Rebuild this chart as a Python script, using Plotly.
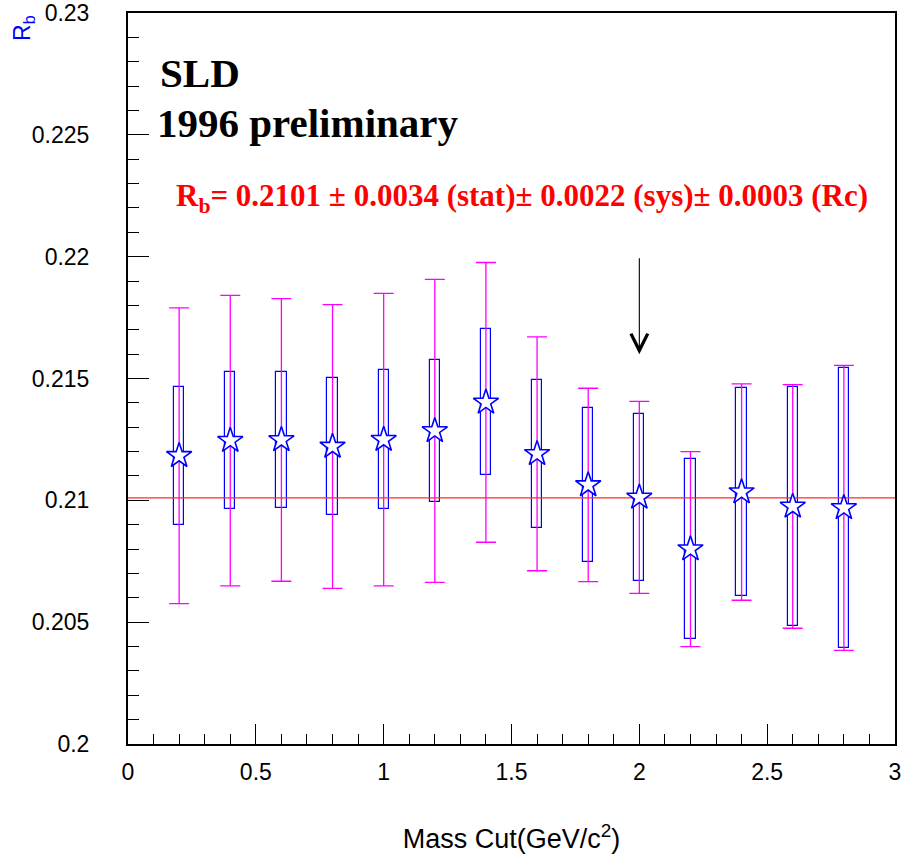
import plotly.graph_objects as go

# ---- data ----
mass_cut = [0.2, 0.4, 0.6, 0.8, 1.0, 1.2, 1.4, 1.6, 1.8, 2.0, 2.2, 2.4, 2.6, 2.8]
rb = [0.21183, 0.21245, 0.21248, 0.21221, 0.21249, 0.21285, 0.21402,
      0.21191, 0.21063, 0.21012, 0.20800, 0.21034, 0.20975, 0.20969]
stat_err = [0.00283, 0.00282, 0.00280, 0.00282, 0.00286, 0.00290, 0.00300,
            0.00303, 0.00315, 0.00341, 0.00369, 0.00427, 0.00489, 0.00573]
total_err = [0.00607, 0.00596, 0.00580, 0.00582, 0.00600, 0.00622, 0.00574,
             0.00480, 0.00397, 0.00394, 0.00400, 0.00444, 0.00500, 0.00585]
rb_fit = 0.2101
x_range = [0, 3]
y_range = [0.2, 0.23]
arrow_x = 2.0
arrow_from = 0.2200
arrow_to = 0.2160
x_ticks = [0, 0.5, 1, 1.5, 2, 2.5, 3]
x_tick_labels = ["0", "0.5", "1", "1.5", "2", "2.5", "3"]
y_ticks = [0.2, 0.205, 0.21, 0.215, 0.22, 0.225, 0.23]
y_tick_labels = ["0.2", "0.205", "0.21", "0.215", "0.22", "0.225", "0.23"]

box_low = [v - e for v, e in zip(rb, stat_err)]
box_len = [2 * e for e in stat_err]

fig = go.Figure()

# statistical boxes
fig.add_trace(go.Bar(
    x=mass_cut, y=box_len, base=box_low, width=0.04,
    marker=dict(color="rgba(255,255,255,0)", line=dict(color="#0000ff", width=1.2)),
    showlegend=False, hoverinfo="skip",
))

# total error bars
fig.add_trace(go.Scatter(
    x=mass_cut, y=rb, mode="markers",
    marker=dict(size=0.1, color="rgba(0,0,0,0)"),
    error_y=dict(type="data", array=total_err, visible=True,
                 color="#ff00ff", thickness=1.3, width=10),
    showlegend=False, hoverinfo="skip",
))

# fitted value line
fig.add_trace(go.Scatter(
    x=x_range, y=[rb_fit, rb_fit], mode="lines",
    line=dict(color="#ff2a2a", width=1.2),
    showlegend=False, hoverinfo="skip",
))

# stars
fig.add_trace(go.Scatter(
    x=mass_cut, y=rb, mode="markers",
    marker=dict(symbol="star", size=19, color="white",
                line=dict(color="#0000ff", width=1.6)),
    showlegend=False,
))

tick_font = dict(family="Liberation Sans, Arial, sans-serif", size=23, color="black")

fig.update_xaxes(
    range=x_range, tickvals=x_ticks, ticktext=x_tick_labels,
    ticks="inside", ticklen=20, tickwidth=1.2, tickcolor="black",
    minor=dict(ticks="inside", ticklen=10, dtick=0.1, tickwidth=1.2, tickcolor="black"),
    showline=True, linecolor="black", linewidth=2, mirror=True,
    showgrid=False, zeroline=False, tickfont=tick_font, ticklabelstandoff=6,
    automargin=False,
    title=dict(text="Mass Cut(GeV/c<sup>2</sup>)",
               font=dict(family="Liberation Sans, Arial, sans-serif", size=27, color="black"),
               standoff=46),
)
fig.update_yaxes(
    range=y_range, tickvals=y_ticks, ticktext=y_tick_labels,
    ticks="inside", ticklen=21, tickwidth=1.2, tickcolor="black",
    minor=dict(ticks="inside", ticklen=11, dtick=0.001, tickwidth=1.2, tickcolor="black"),
    showline=True, linecolor="black", linewidth=2, mirror=True,
    showgrid=False, zeroline=False, tickfont=tick_font, ticklabelstandoff=32,
    automargin=False,
)

# plot-area pixel geometry
PL, PR, PT, PB = 128, 895, 13, 744.3
W_PLOT, H_PLOT = PR - PL, PB - PT


def px(xp):
    return (xp - PL) / W_PLOT


def py(yp):
    return (PB - yp) / H_PLOT


serif = "Liberation Serif, Times New Roman, serif"
fig.add_annotation(text="<b>SLD</b>", xref="paper", yref="paper",
                   x=px(158), y=py(73), xanchor="left", yanchor="middle",
                   showarrow=False, font=dict(family=serif, size=41, color="black"))
fig.add_annotation(text="<b>1996 preliminary</b>", xref="paper", yref="paper",
                   x=px(155), y=py(123), xanchor="left", yanchor="middle",
                   showarrow=False, font=dict(family=serif, size=41, color="black"))
fig.add_annotation(
    text="<b>R<sub>b</sub>= 0.2101 ± 0.0034 (stat)± 0.0022 (sys)± 0.0003 (Rc)</b>",
    xref="paper", yref="paper", x=px(522), y=py(198),
    xanchor="center", yanchor="middle", showarrow=False,
    font=dict(family=serif, size=31, color="#ff0000"))
fig.add_annotation(text="R<sub>b</sub>", xref="paper", yref="paper",
                   x=px(24), y=py(28), textangle=-90,
                   xanchor="center", yanchor="middle", showarrow=False,
                   font=dict(family="Liberation Sans, Arial, sans-serif", size=23, color="#0000ff"))

# arrow
fig.add_annotation(x=arrow_x, y=arrow_to, ax=arrow_x, ay=arrow_from,
                   xref="x", yref="y", axref="x", ayref="y", text="",
                   showarrow=True, arrowhead=5, arrowsize=3, arrowwidth=1.1,
                   arrowcolor="black")

fig.update_layout(
    width=902, height=859,
    margin=dict(l=PL, r=902 - PR, t=PT, b=round(859 - PB), autoexpand=False),
    paper_bgcolor="white", plot_bgcolor="white",
    bargap=0, showlegend=False,
)

fig.write_html("out.html", config={"displayModeBar": False},
               post_script="document.body.style.margin='0px';")
